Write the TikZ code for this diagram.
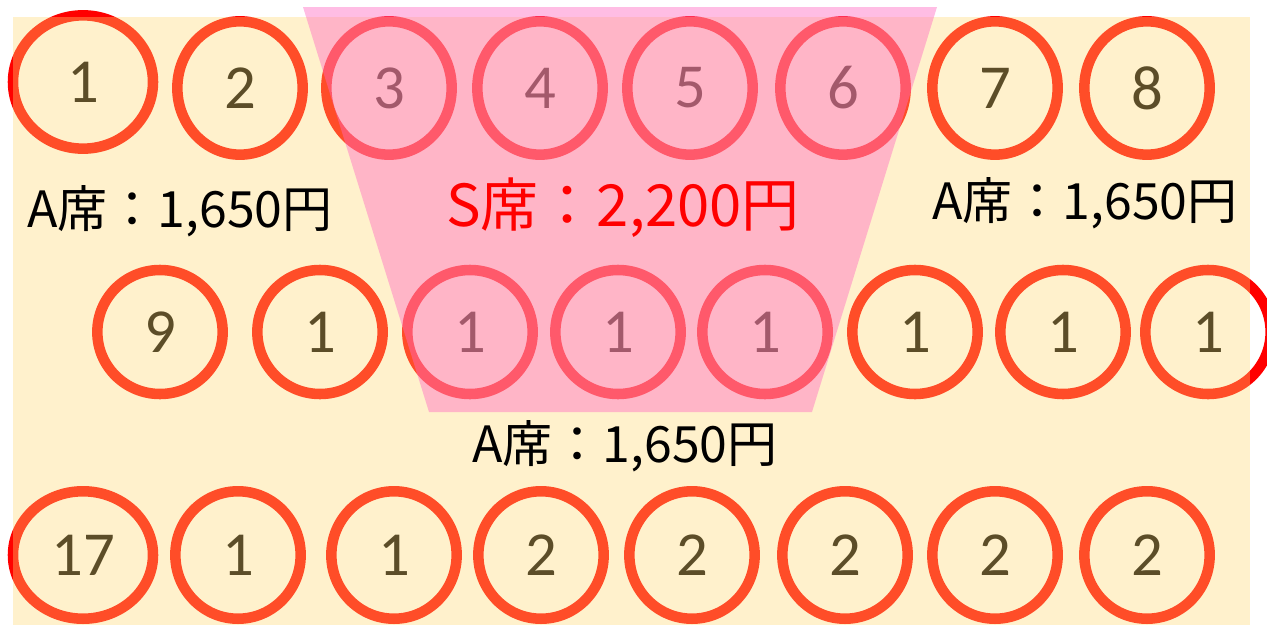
\documentclass[tikz,border=0pt]{standalone}
\usepackage{fontspec}
\setmainfont{Carlito}
\newfontfamily\jpfont{Noto Sans CJK JP}
\usetikzlibrary{shapes.geometric}
\definecolor{seatRed}{HTML}{FF0000}
\definecolor{cream}{RGB}{255,216,113}
\definecolor{hotPink}{RGB}{255,105,194}

\begin{document}
\begin{tikzpicture}[
  x=0.75pt,y=-0.75pt,
  seat/.style={ellipse,draw=seatRed,line width=7.9pt,inner sep=0pt,
    minimum width=94pt,minimum height=97pt,font=\fontsize{47}{47}\selectfont},
  price/.style={inner sep=0pt,font=\jpfont\fontsize{37.5}{40}\selectfont}
]
\useasboundingbox (0,0) rectangle (1267,625);
% front row
\node[seat,minimum width=105pt,minimum height=100pt] (s1) at (83,82) {1};
\foreach \n/\x in {2/240,3/389,4/540,5/690,6/843,7/995,8/1147}
  \node[seat,minimum height=100pt] (s\n) at (\x,88) {\n};
% middle row
\foreach \n/\x/\t in {9/160/9,10/320/1,11/470/1,12/618/1,13/765/1,14/915/1,15/1063/1,16/1208/1}
  \node[seat,minimum height=93pt] (s\n) at (\x,332) {\t};
% back row
\node[seat,minimum width=105pt,minimum height=95.6pt] (s17) at (83,555) {17};
\foreach \n/\x/\t in {18/238/1,19/394/1,20/541/2,21/692/2,22/845/2,23/995/2,24/1147/2}
  \node[seat,minimum height=95.6pt] (s\n) at (\x,555) {\t};
% seating areas
\fill[cream,fill opacity=0.36] (13,17) rectangle (1250,625);
\fill[hotPink,fill opacity=0.44] (303,7) -- (937,7) -- (812,412) -- (429,412) -- cycle;
% prices
\node[price] (priceAL) at (180,211) {A席：1,650円};
\node[price,text=seatRed,font=\jpfont\fontsize{43.5}{46}\selectfont] (priceS) at (623,208) {S席：2,200円};
\node[price] (priceAR) at (1085,203) {A席：1,650円};
\node[price] (priceAB) at (625,446) {A席：1,650円};
\end{tikzpicture}
\end{document}
